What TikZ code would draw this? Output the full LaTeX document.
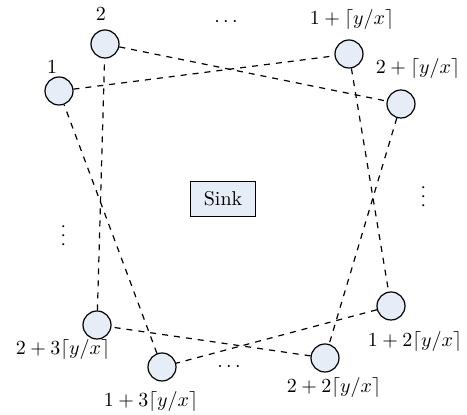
\documentclass[tikz,border=0pt]{standalone}
\usepackage{amssymb}
\usepackage{xcolor}
\usetikzlibrary{positioning}
\definecolor{nodefill}{RGB}{231,237,246}

\begin{document}
\begin{tikzpicture}[x=0.5pt,y=-0.5pt,font=\normalsize]
  \tikzstyle{sensor}=[draw,circle,line width=0.6pt,minimum size=14pt,inner sep=0pt,fill=nodefill]
  \tikzstyle{sinkbox}=[draw,line width=0.6pt,minimum width=32.5pt,minimum height=17.5pt,inner sep=1pt,fill=nodefill]
  \tikzstyle{link}=[dashed,line width=0.6pt]
  \tikzstyle{lbl}=[inner sep=0pt]
  \useasboundingbox (0,0) rectangle (467,415);
  % Sink
  \node[sinkbox] (sink) at (223,199) {Sink};
  % Sensor nodes
  \node[sensor] (n1)  at (59,91)   {};
  \node[sensor] (n2)  at (105,44)  {};
  \node[sensor] (n1a) at (349,54)  {};
  \node[sensor] (n2a) at (401,104) {};
  \node[sensor] (n1b) at (391,306) {};
  \node[sensor] (n2b) at (325,358) {};
  \node[sensor] (n1c) at (162,367) {};
  \node[sensor] (n2c) at (97,325)  {};
  % Labels
  \node[lbl] (l1)  at (52,67)   {1};
  \node[lbl] (l2)  at (101,14)  {2};
  \node[lbl] (l1a) at (352,20)  {$1+\lceil y/x\rceil$};
  \node[lbl] (l2a) at (418,69)  {$2+\lceil y/x\rceil$};
  \node[lbl] (l1b) at (415,342) {$1+2\lceil y/x\rceil$};
  \node[lbl] (l2b) at (334,388) {$2+2\lceil y/x\rceil$};
  \node[lbl] (l1c) at (151,402) {$1+3\lceil y/x\rceil$};
  \node[lbl] (l2c) at (63,350)  {$2+3\lceil y/x\rceil$};
  % Dots
  \node[lbl] (dt) at (226,22)  {$\cdots$};
  \node[lbl] (db) at (229,367) {$\cdots$};
  \node[lbl,rotate=90] (dl) at (64,236)  {$\cdots$};
  \node[lbl,rotate=90] (dr) at (424,197) {$\cdots$};
  % Links
  \draw[link] (n1) -- (n1a);
  \draw[link] (n2) -- (n2a);
  \draw[link] (n1a) -- (n1b);
  \draw[link] (n2a) -- (n2b);
  \draw[link] (n1b) -- (n1c);
  \draw[link] (n2b) -- (n2c);
  \draw[link] (n2c) -- (n2);
  \draw[link] (n1c) -- (n1);
\end{tikzpicture}
\end{document}
